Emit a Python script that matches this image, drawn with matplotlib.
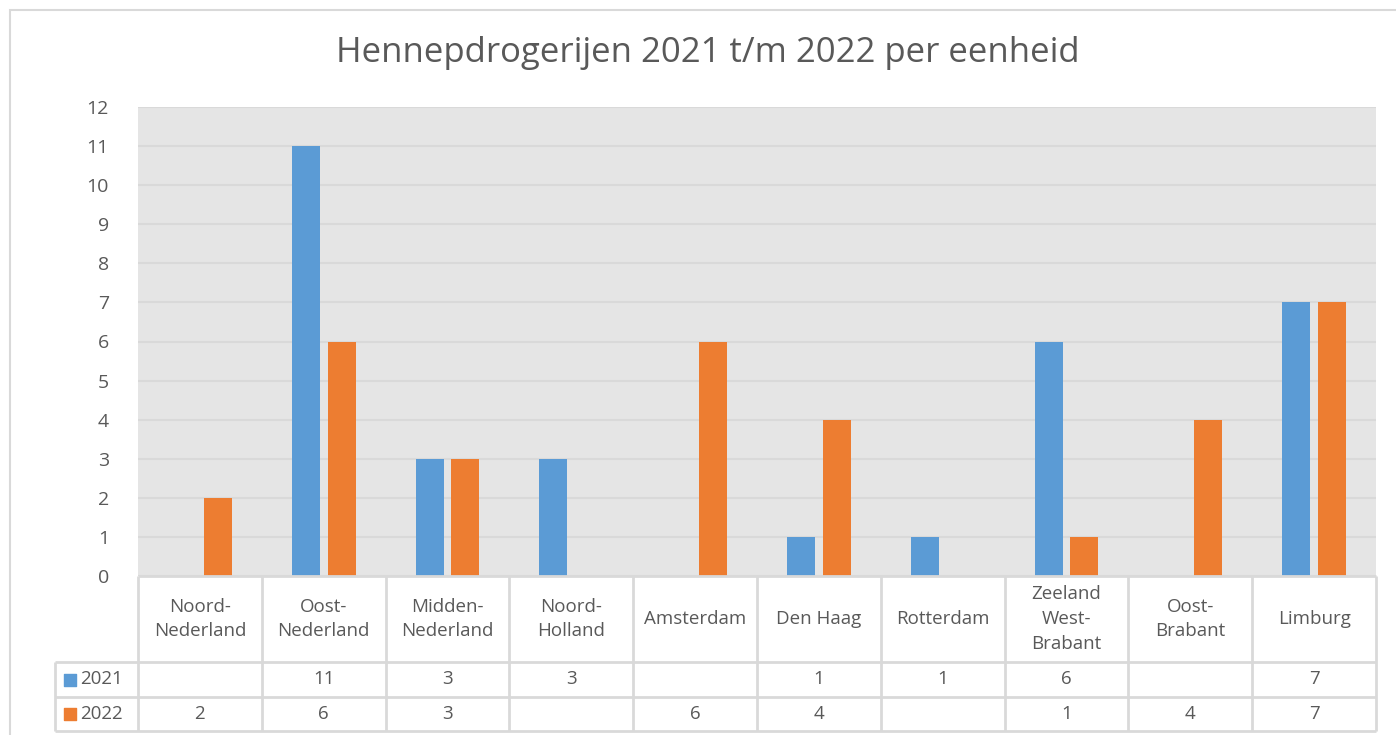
import numpy as np
import matplotlib.pyplot as plt
from matplotlib.patches import Rectangle

categories = ['Noord-\nNederland', 'Oost-\nNederland', 'Midden-\nNederland', 'Noord-\nHolland',
              'Amsterdam', 'Den Haag', 'Rotterdam', 'Zeeland\nWest-\nBrabant', 'Oost-\nBrabant', 'Limburg']
v2021 = [None, 11, 3, 3, None, 1, 1, 6, None, 7]
v2022 = [2, 6, 3, None, 6, 4, None, 1, 4, 7]
series = ['2021', '2022']
colors = ['#5B9BD5', '#ED7D31']

plt.rcParams['font.family'] = ['Open Sans', 'DejaVu Sans']
text_col = '#595959'
line_col = '#D9D9D9'
fs = 13.5

W, H = 1396, 735
fig = plt.figure(figsize=(W / 100, H / 100), dpi=100)

# outer chart border
fig.add_artist(Rectangle((10 / W, -0.05), 1.0, 1 - 10 / H + 0.05, transform=fig.transFigure,
                         fill=False, edgecolor=line_col, lw=1.5))

left, right, top, bottom = 138, 1376, 107, 576
ax = fig.add_axes([left / W, 1 - bottom / H, (right - left) / W, (bottom - top) / H])
ax.set_facecolor('#E5E5E5')
x = np.arange(len(categories))
w = 0.226
off = 0.145
for vals, c, d in zip([v2021, v2022], colors, [-off, off]):
    h = [v if v is not None else 0 for v in vals]
    ax.bar(x + d, h, width=w, color=c, zorder=3)
ax.set_xlim(-0.5, len(categories) - 0.5)
ax.set_ylim(0, 12)
ax.set_yticks(range(0, 13))
ax.tick_params(axis='y', length=0, labelsize=14, labelcolor=text_col, pad=21)
ax.set_xticks([])
ax.grid(axis='y', color=line_col, lw=1.5, zorder=1)
for s in ax.spines.values():
    s.set_visible(False)

fig.text(708 / W, 1 - 53 / H, 'Hennepdrogerijen 2021 t/m 2022 per eenheid', ha='center', va='center',
         fontsize=25, color=text_col)

# data table
tb = fig.add_axes([55 / W, 1 - 731 / H, (right - 55) / W, (731 - bottom) / H])
tb.set_xlim(-0.5 - (left - 55) / ((right - left) / len(categories)), len(categories) - 0.5)
tb.set_ylim(731, bottom)
tb.axis('off')
lx = tb.get_xlim()[0]
rows = [576, 662, 697, 731]
lk = dict(color=line_col, lw=2, clip_on=False)
tb.hlines(rows[0], -0.5, len(categories) - 0.5, **lk)
for r in rows[1:]:
    tb.hlines(r, lx, len(categories) - 0.5, **lk)
for i in range(len(categories) + 1):
    tb.vlines(i - 0.5, rows[0], rows[-1], **lk)
tb.vlines(lx, rows[1], rows[-1], **lk)

for i, cat in enumerate(categories):
    tb.text(i, (rows[0] + rows[1]) / 2, cat, ha='center', va='center', fontsize=fs,
            color=text_col, linespacing=1.5)
for j, (vals, name, c) in enumerate(zip([v2021, v2022], series, colors)):
    yc = (rows[j + 1] + rows[j + 2]) / 2
    for i, v in enumerate(vals):
        if v is not None:
            tb.text(i, yc, str(v), ha='center', va='center', fontsize=fs, color=text_col)
    tb.text(lx + 0.2, yc, name, ha='left', va='center', fontsize=fs, color=text_col)
    tb.scatter([lx + 0.12], [yc], marker='s', s=70, color=c, clip_on=False)

fig.savefig('out.png', dpi=100)
